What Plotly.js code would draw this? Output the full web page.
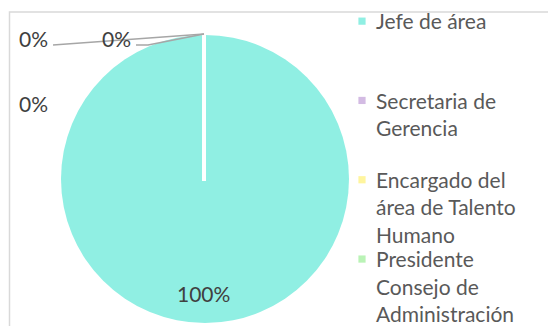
<!DOCTYPE html>
<html><head><meta charset="utf-8">
<script src="https://cdn.plot.ly/plotly-3.0.1.min.js"></script>
<style>html,body{margin:0;padding:0;background:#fff}#chart{width:548px;height:326px}</style>
</head><body><div id="chart"></div>
<script>
const categories = ['Jefe de área', 'Secretaria de Gerencia', 'Encargado del área de Talento Humano', 'Presidente Consejo de Administración'];
const values = [100, 0, 0, 0];
const colors = ['#90EFE3', '#D3BBE3', '#FFF59E', '#BAF3B6'];

const W = 548, H = 326;
function wrap(s, n, lines) {
  const words = s.split(' '); const out = []; let cur = '';
  words.forEach(w => { if (cur && (cur + ' ' + w).length > n) { out.push(cur); cur = w; } else cur = cur ? cur + ' ' + w : w; });
  out.push(cur);
  while (out.length < lines) out.push(' ');
  return out.join('<br>');
}
const labels = categories.map(c => wrap(c, 15, 3));
const total = values.reduce((a, b) => a + b, 0);
const pct = values.map(v => Math.round(v / total * 100) + '%');

// pie geometry in pixels
const cx = 205, cy = 179, r = 144;
const px = x => x / W, py = y => 1 - y / H;
const topX = px(cx - 1), topY = py(cy - r - 1);

const font = {family: 'Lato, sans-serif', size: 21, color: '#404040'};
const lab = (x, y, t) => ({x: px(x), y: py(y), xanchor: 'center', yanchor: 'middle', text: t, showarrow: false, font: font});
const annotations = [
  lab(cx - 2, 293, pct[0]),
  lab(33, 38, pct[1]),
  lab(116, 38, pct[2]),
  lab(33, 104, pct[3])
];
const leader = path => ({type: 'path', xref: 'paper', yref: 'paper', path: path, line: {color: '#A6A6A6', width: 1.5}, layer: 'above'});

const data = [{
  type: 'pie', labels: labels, values: values, sort: false, direction: 'clockwise', rotation: 0,
  marker: {colors: colors, line: {color: '#fff', width: 0}},
  textinfo: 'none', hoverinfo: 'label+percent',
  domain: {x: [px(cx - r), px(cx + r)], y: [py(cy + r), py(cy - r)]}
}];

const layout = {
  width: W, height: H, margin: {l: 0, r: 0, t: 0, b: 0},
  paper_bgcolor: '#fff', showlegend: true,
  legend: {x: px(336), xanchor: 'left', y: py(4), yanchor: 'top', valign: 'top', tracegroupgap: 0,
    font: {family: 'Lato, sans-serif', size: 21, color: '#595959'}, bgcolor: 'rgba(0,0,0,0)'},
  annotations: annotations,
  shapes: [
    {type: 'rect', xref: 'paper', yref: 'paper', x0: px(9.5), x1: 1.1, y0: -0.1, y1: py(12), line: {color: '#D9D9D9', width: 1.5}, layer: 'below'},
    {type: 'line', xref: 'paper', yref: 'paper', x0: px(cx - 1), x1: px(cx - 1), y0: py(cy + 2), y1: py(cy - r - 1), line: {color: '#fff', width: 4}, layer: 'above'},
    leader(`M${px(53)},${py(45)}L${topX},${topY}`),
    leader(`M${px(136)},${py(45)}L${px(148)},${py(45)}L${topX},${topY}`)
  ]
};

Plotly.newPlot('chart', data, layout, {displayModeBar: false, staticPlot: true}).then(gd => {
  document.querySelectorAll('.legendpie').forEach(p => p.setAttribute('transform', 'translate(26,0) scale(0.6)'));
  document.querySelectorAll('.legend .traces').forEach((g, k) => {
    const m = /translate\(\s*([-\d.]+)[ ,]+([-\d.]+)\)/.exec(g.getAttribute('transform') || '');
    if (m) g.setAttribute('transform', `translate(${m[1]},${parseFloat(m[2]) + 1 - k * 5.6})`);
  });
});
</script></body></html>
